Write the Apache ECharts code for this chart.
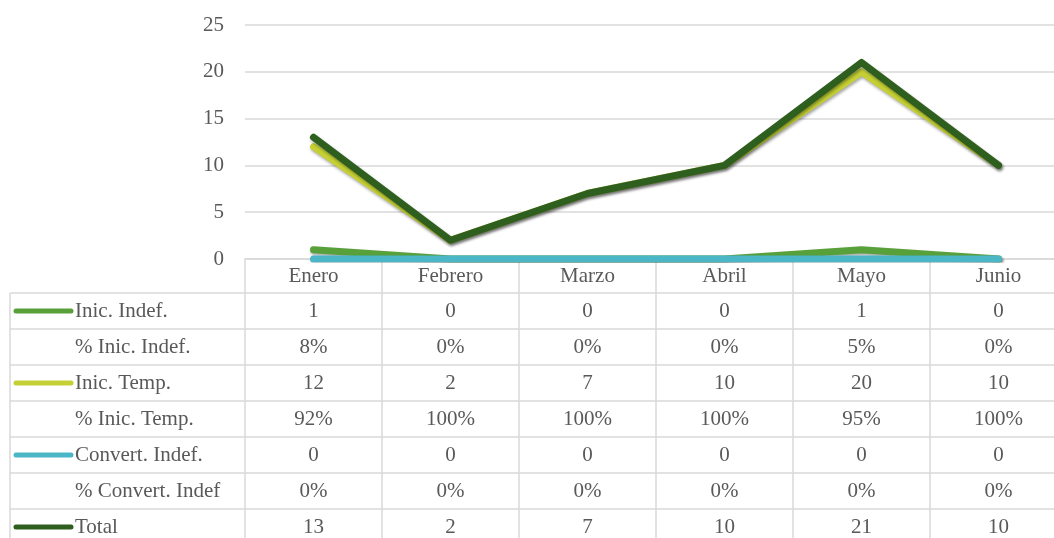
<!DOCTYPE html>
<html>
<head>
<meta charset="utf-8">
<script src="https://cdn.jsdelivr.net/npm/echarts@6/dist/echarts.min.js"></script>
<style>
  html, body { margin: 0; padding: 0; background: #fff; overflow: hidden; }
  /* the reference crops the plot on the right, so the canvas is wider than the window */
  #chart1 { width: 1067px; height: 538px; }
</style>
</head>
<body>
<div id="chart1"></div>
<script>
// data
var months = ['Enero', 'Febrero', 'Marzo', 'Abril', 'Mayo', 'Junio'];
var inicIndef = [1, 0, 0, 0, 1, 0];
var pctInicIndef = ['8%', '0%', '0%', '0%', '5%', '0%'];
var inicTemp = [12, 2, 7, 10, 20, 10];
var pctInicTemp = ['92%', '100%', '100%', '100%', '95%', '100%'];
var convIndef = [0, 0, 0, 0, 0, 0];
var pctConvIndef = ['0%', '0%', '0%', '0%', '0%', '0%'];
var total = [13, 2, 7, 10, 21, 10];
var yTicks = [0, 5, 10, 15, 20, 25];

var font = '"Liberation Serif", "DejaVu Serif", serif';
var fontSize = 21;
var txtColor = '#595959';
var gridColor = '#d9d9d9';

var myChart = echarts.init(document.getElementById('chart1'));

function lineSeries(name, data, color) {
    return {
        name: name,
        type: 'line',
        data: data,
        symbol: 'none',
        lineStyle: {
            color: color,
            width: 7,
            cap: 'round',
            join: 'round',
            shadowColor: 'rgba(0,0,0,0.35)',
            shadowBlur: 3,
            shadowOffsetX: 1,
            shadowOffsetY: 2
        },
        itemStyle: { color: color },
        animation: false
    };
}

// table rows: label, values, legend colour (null = no key)
var rows = [
    { label: 'Inic. Indef.', vals: inicIndef, color: '#58a03a' },
    { label: '% Inic. Indef.', vals: pctInicIndef, color: null },
    { label: 'Inic. Temp.', vals: inicTemp, color: '#c4d033' },
    { label: '% Inic. Temp.', vals: pctInicTemp, color: null },
    { label: 'Convert. Indef.', vals: convIndef, color: '#4bb6c6' },
    { label: '% Convert. Indef', vals: pctConvIndef, color: null },
    { label: 'Total', vals: total, color: '#2f5f1f' }
];

var option = {
    animation: false,
    grid: { left: 245, top: 25, right: 0, height: 234 },
    xAxis: {
        type: 'category',
        data: months,
        boundaryGap: true,
        axisLine: { show: true, lineStyle: { color: gridColor, width: 1.5 } },
        axisTick: { show: true, length: 34, lineStyle: { color: gridColor, width: 1.5 } },
        axisLabel: { color: txtColor, fontFamily: font, fontSize: fontSize, margin: 7 }
    },
    yAxis: {
        type: 'value',
        min: yTicks[0],
        max: yTicks[yTicks.length - 1],
        interval: 5,
        axisLine: { show: false },
        axisTick: { show: false },
        axisLabel: { color: txtColor, fontFamily: font, fontSize: fontSize, margin: 21 },
        splitLine: { lineStyle: { color: gridColor, width: 1.5 } }
    },
    series: [
        lineSeries('Inic. Indef.', inicIndef, '#58a03a'),
        lineSeries('Inic. Temp.', inicTemp, '#c4d033'),
        lineSeries('Convert. Indef.', convIndef, '#4bb6c6'),
        lineSeries('Total', total, '#2f5f1f')
    ]
};
myChart.setOption(option);

// build the data table under the axis
var tableTop = 293, rowH = 36, tableLeft = 10, colEdge = 245, W = 1067;
var bandW = myChart.convertToPixel({ xAxisIndex: 0 }, months[1]) - myChart.convertToPixel({ xAxisIndex: 0 }, months[0]);
var gfx = [];
var lineSt = { stroke: gridColor, lineWidth: 1.5 };

for (var r = 0; r <= rows.length; r++) {
    var y = tableTop + r * rowH;
    gfx.push({ type: 'line', shape: { x1: tableLeft, y1: y, x2: W, y2: y }, style: lineSt, silent: true });
}
gfx.push({ type: 'line', shape: { x1: tableLeft, y1: tableTop, x2: tableLeft, y2: 538 }, style: lineSt, silent: true });
for (var c = 0; c <= months.length; c++) {
    var x = colEdge + c * bandW;
    gfx.push({ type: 'line', shape: { x1: x, y1: tableTop, x2: x, y2: 538 }, style: lineSt, silent: true });
}

for (var i = 0; i < rows.length; i++) {
    var cy = tableTop + i * rowH + rowH / 2;
    if (rows[i].color) {
        gfx.push({ type: 'line', shape: { x1: 16, y1: cy, x2: 71, y2: cy },
            style: { stroke: rows[i].color, lineWidth: 5, lineCap: 'round' }, silent: true });
    }
    gfx.push({ type: 'text', x: 75, y: cy,
        style: { text: rows[i].label, fill: txtColor, font: fontSize + 'px ' + font, textVerticalAlign: 'middle', textAlign: 'left' } });
    for (var j = 0; j < months.length; j++) {
        var cx = myChart.convertToPixel({ xAxisIndex: 0 }, months[j]);
        gfx.push({ type: 'text', x: cx, y: cy,
            style: { text: String(rows[i].vals[j]), fill: txtColor, font: fontSize + 'px ' + font, textVerticalAlign: 'middle', textAlign: 'center' } });
    }
}
myChart.setOption({ graphic: gfx });
</script>
</body>
</html>
